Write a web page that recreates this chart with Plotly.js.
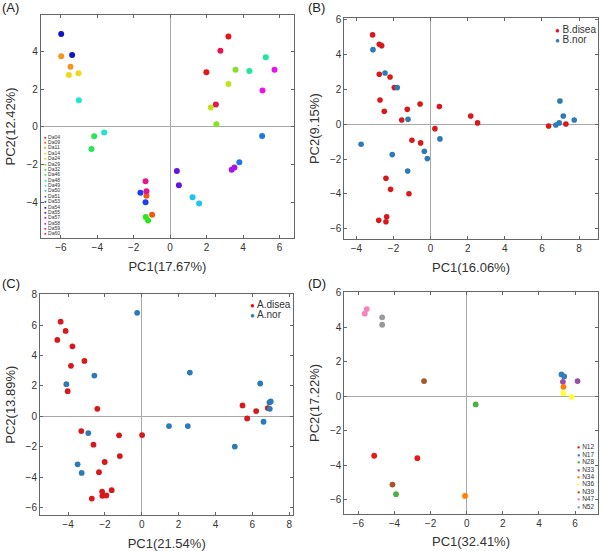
<!DOCTYPE html>
<html>
<head>
<meta charset="utf-8">
<script src="https://cdn.plot.ly/plotly-3.0.1.min.js"></script>
<style>
  html, body { margin: 0; padding: 0; background: #fff; }
  #chart { width: 600px; height: 551px; }
</style>
</head>
<body>
<div id="chart"></div>
<script>
// ---- panel A: Da samples, two points each ----
const aNames = ['Da04','Da09','Da11','Da14','Da24','Da29','Da32','Da46','Da48','Da49',
                'Da50','Da51','Da53','Da54','Da55','Da57','Da58','Da59','Da60'];
const aX = [[3.20,1.99],[-1.30,-0.99],[-5.98,-5.47],[-5.56,-5.03],[3.20,2.23],[3.59,2.54],
            [-1.34,-1.21],[-4.17,-4.32],[4.35,5.25],[-5.01,-3.62],[1.23,1.59],[5.05,3.80],
            [-1.63,-1.35],[-5.98,-5.38],[0.37,0.48],[3.53,3.38],[5.73,5.07],[-1.35,-1.30],[2.76,2.51]];
const aY = [[4.80,2.90],[-3.66,-4.67],[3.75,3.19],[2.76,2.85],[2.28,1.03],[3.03,0.14],
            [-4.78,-4.97],[-0.50,-1.17],[2.97,3.70],[1.42,-0.30],[-3.73,-4.07],[-0.48,-1.88],
            [-3.50,-4.00],[4.94,3.82],[-2.34,-3.10],[-2.16,-2.28],[3.04,1.93],[-2.88,-3.42],[4.05,1.19]];
const aColors = ['#e8141e','#f25a14','#f2961e','#f2d81a','#c2e01e','#86e028','#2ee61e','#28e65a',
                 '#1ee69a','#1ee6d2','#1ec4f0','#1e78e6','#1e3cf0','#1414c8','#6414e0','#aa14e6',
                 '#e614e6','#e6148c','#e61450'];

// ---- panel B ----
const bDiseaX = [-3.13,-2.77,-2.64,-2.77,-2.19,-1.96,-2.73,-2.50,-1.56,-1.26,-0.57,0.47,2.16,2.53,
                 0.23,-1.01,-0.54,-2.41,-2.16,-1.17,-2.37,-2.80,-2.41,6.36,7.29];
const bDiseaY = [5.14,4.60,4.52,2.88,2.72,2.11,1.40,0.75,0.25,0.86,1.17,1.02,0.48,0.08,
                 -0.25,-0.92,-1.07,-3.10,-3.74,-3.99,-5.31,-5.52,-5.60,-0.10,0.02];
const bNorX = [-3.11,-2.46,-1.80,-1.22,-3.75,-2.07,-0.34,-0.18,0.50,-1.24,6.97,7.15,7.74,6.93,6.75];
const bNorY = [4.29,2.95,2.11,0.29,-1.15,-1.74,-1.55,-1.97,-0.84,-2.68,1.34,0.48,0.25,0.08,-0.04];

// ---- panel C ----
const cDiseaX = [-4.40,-4.13,-4.58,-3.76,-3.11,-3.84,-4.02,-2.41,-3.28,-2.62,-1.23,0.02,-2.01,-1.19,
                 -2.32,-2.15,-2.14,-1.92,-1.63,-2.71,5.47,5.72,6.21,6.84];
const cDiseaY = [6.22,5.61,5.02,4.60,3.64,3.32,1.66,0.50,-0.96,-1.85,-1.24,-1.22,-2.99,-2.60,
                 -3.66,-4.93,-5.21,-5.19,-4.84,-5.39,0.72,-0.13,0.35,0.55];
const cNorX = [-0.25,-4.09,-2.57,-2.90,-3.48,-3.26,1.48,2.50,2.61,5.05,6.43,6.61,6.93,7.00,6.95];
const cNorY = [6.80,2.12,2.68,-1.09,-3.14,-3.71,-0.63,-0.63,2.88,-1.98,2.16,-0.35,0.92,0.98,0.50];

// ---- panel D ----
const dNames = ['N12','N17','N28','N33','N34','N36','N39','N47','N52'];
const dX = [[-5.12,-2.73],[5.25,5.40],[0.50,-3.91],[5.33,6.14],[5.36,-0.09],[5.36,5.81],
            [-2.36,-4.11],[-5.64,-5.53],[-4.68,-4.68]];
const dY = [[-3.46,-3.60],[1.26,1.14],[-0.48,-5.69],[0.83,0.87],[0.54,-5.79],[0.17,-0.04],
            [0.87,-5.13],[4.78,5.05],[4.57,4.14]];
const dColors = ['#e41a1c','#377eb8','#4daf4a','#984ea3','#ff7f00','#ffff33','#a65628','#f781bf','#999999'];

const RED = '#d7191c', BLUE = '#2c7bb6';
const FONT = 'Liberation Sans, Arial, sans-serif';

const traces = [];
aNames.forEach((n, i) => traces.push({
  x: aX[i], y: aY[i], type: 'scatter', mode: 'markers', name: n, showlegend: false,
  xaxis: 'x', yaxis: 'y', marker: { color: aColors[i], size: 6 }
}));
traces.push({ x: bDiseaX, y: bDiseaY, type: 'scatter', mode: 'markers', name: 'B.disea', showlegend: false,
  xaxis: 'x2', yaxis: 'y2', marker: { color: RED, size: 5.6 } });
traces.push({ x: bNorX, y: bNorY, type: 'scatter', mode: 'markers', name: 'B.nor', showlegend: false,
  xaxis: 'x2', yaxis: 'y2', marker: { color: BLUE, size: 5.6 } });
traces.push({ x: cDiseaX, y: cDiseaY, type: 'scatter', mode: 'markers', name: 'A.disea', showlegend: false,
  xaxis: 'x3', yaxis: 'y3', marker: { color: RED, size: 5.8 } });
traces.push({ x: cNorX, y: cNorY, type: 'scatter', mode: 'markers', name: 'A.nor', showlegend: false,
  xaxis: 'x3', yaxis: 'y3', marker: { color: BLUE, size: 5.8 } });
dNames.forEach((n, i) => traces.push({
  x: dX[i], y: dY[i], type: 'scatter', mode: 'markers', name: n, showlegend: false,
  xaxis: 'x4', yaxis: 'y4', marker: { color: dColors[i], size: 5.8 }
}));

function ax(domain, range, dtick, anchor, title, standoff) {
  return {
    domain: domain, range: range, dtick: dtick, tick0: 0, anchor: anchor,
    showgrid: false, zeroline: true, zerolinecolor: '#a8a8a8', zerolinewidth: 1,
    showline: true, linecolor: '#666', linewidth: 1, mirror: 'ticks',
    ticks: 'inside', ticklen: 3, tickcolor: '#666',
    tickfont: { size: 10, color: '#333', family: FONT },
    title: { text: title, font: { size: 13, color: '#333', family: FONT }, standoff: standoff }
  };
}

// legend entries drawn as paper annotations
const annotations = [];
function legendItems(names, colors, x0, y0, step, size, dot) {
  names.forEach((n, i) => annotations.push({
    xref: 'paper', yref: 'paper', x: x0 / 600, y: 1 - (y0 + i * step) / 551,
    xanchor: 'left', yanchor: 'middle', showarrow: false,
    text: '<span style="color:' + colors[i] + ';font-size:' + dot + 'px">●</span> ' + n,
    font: { size: size, color: '#333', family: FONT }
  }));
}
legendItems(aNames, aColors, 42, 136.7, 5.37, 5, 4.5);
legendItems(['B.disea', 'B.nor'], [RED, BLUE], 553, 29.5, 10, 10, 8);
legendItems(['A.disea', 'A.nor'], [RED, BLUE], 248, 304.5, 10, 10, 8);
legendItems(dNames, dColors, 575, 446.7, 7.45, 6.5, 5.5);

[['(A)', 0, 8], ['(B)', 306, 8], ['(C)', 0, 283], ['(D)', 306, 283]].forEach(p => annotations.push({
  xref: 'paper', yref: 'paper', x: p[1] / 600, y: 1 - p[2] / 551, xanchor: 'left', yanchor: 'middle',
  showarrow: false, text: p[0], font: { size: 13, color: '#222', family: FONT }
}));

const layout = {
  width: 600, height: 551,
  margin: { l: 0, r: 0, t: 0, b: 0 },
  paper_bgcolor: '#fff', plot_bgcolor: '#fff',
  showlegend: false,
  xaxis:  ax([0.068, 0.49],   [-7.1, 6.8],   2, 'y',  'PC1(17.67%)', 9),
  yaxis:  ax([0.568, 0.973],  [-5.9, 5.95],  2, 'x',  'PC2(12.42%)', 7),
  xaxis2: ax([0.574, 0.996],  [-4.65, 9.0],  2, 'y2', 'PC1(16.06%)', 9),
  yaxis2: ax([0.566, 0.967],  [-6.6, 6.1],   2, 'x2', 'PC2(9.15%)', 7),
  xaxis3: ax([0.0667, 0.489], [-5.52, 8.23], 2, 'y3', 'PC1(21.54%)', 9),
  yaxis3: ax([0.065, 0.466],  [-6.48, 8.02], 2, 'x3', 'PC2(13.89%)', 7),
  xaxis4: ax([0.574, 0.996],  [-6.77, 7.25], 2, 'y4', 'PC1(32.41%)', 9),
  yaxis4: ax([0.068, 0.4695], [-6.81, 6.02], 2, 'x4', 'PC2(17.22%)', 7),
  annotations: annotations
};

Plotly.newPlot('chart', traces, layout, { displayModeBar: false, staticPlot: true });
</script>
</body>
</html>
